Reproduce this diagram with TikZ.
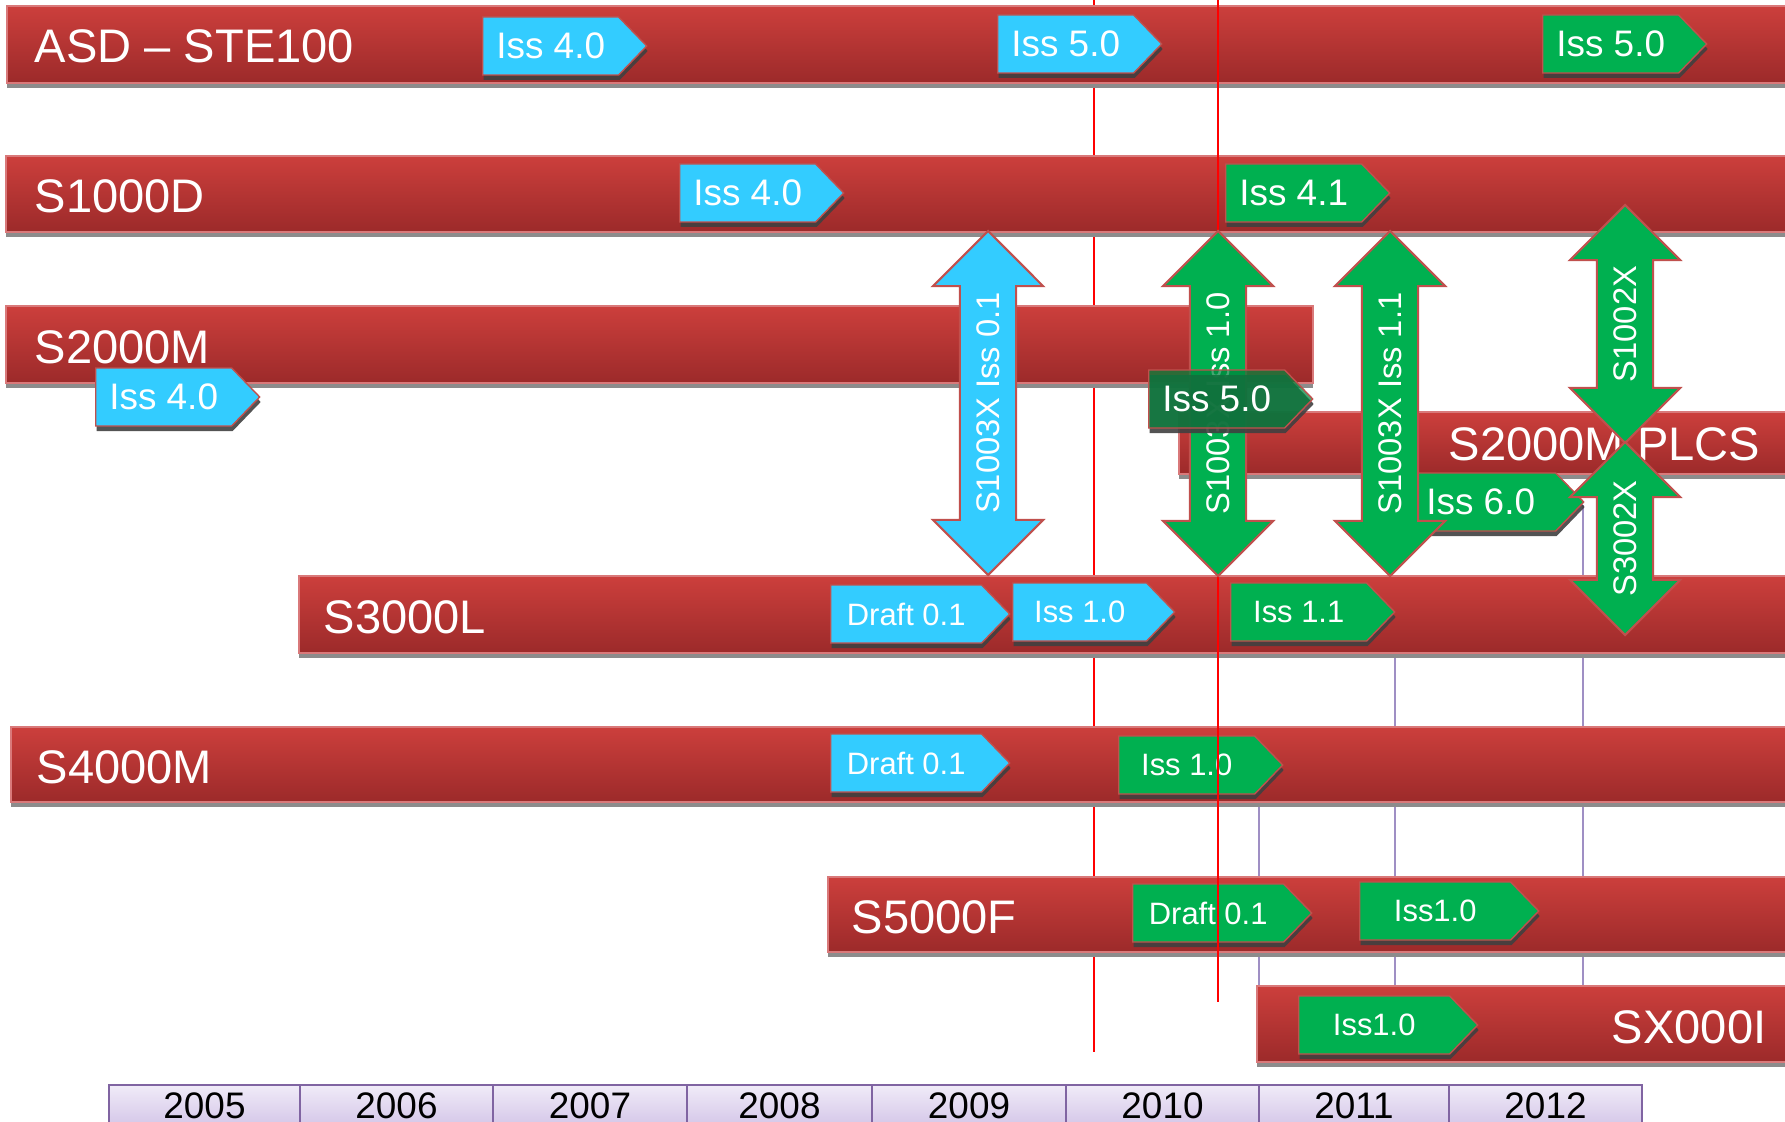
\documentclass[tikz,border=0pt]{standalone}
\usepackage{fontspec}
\setmainfont{Liberation Sans}
\usetikzlibrary{shapes.symbols,shapes.arrows,shadows}

\definecolor{barlight}{HTML}{CC3F3C}
\definecolor{bardark}{HTML}{9C2A2A}
\definecolor{barrim}{HTML}{D9797A}
\definecolor{isscyan}{HTML}{33CCFF}
\definecolor{issgreen}{HTML}{00B050}
\definecolor{rimred}{HTML}{C0504D}
\definecolor{yearlight}{HTML}{F0EBF8}
\definecolor{yeardark}{HTML}{CBBAE3}
\definecolor{yearrim}{HTML}{8064A2}
\definecolor{gridlilac}{HTML}{9F8FC4}

\begin{document}
\begin{tikzpicture}[x=0.1mm,y=-0.1mm]
\tikzstyle{bar} = [draw=barrim, line width=0.4pt, top color=barlight, bottom color=bardark]
\tikzstyle{barshadow} = [fill=black!45]
\tikzstyle{barlabel} = [text=white, inner sep=0pt, anchor=base west,
font=\fontsize{13.4}{16}\selectfont]
\tikzstyle{mile} = [signal, signal to=east, signal pointer angle=92,
draw=rimred, line width=0.4pt, text=white, inner sep=0pt, anchor=west,
minimum height=5.8mm,
drop shadow={shadow xshift=0.1mm, shadow yshift=-0.5mm, fill=black!75, opacity=0.9}]
\tikzstyle{bigmile} = [mile, minimum width=16.4mm, font=\fontsize{10.5}{12}\selectfont]
\tikzstyle{smallmile} = [mile, minimum width=17.9mm, font=\fontsize{8.8}{10}\selectfont]
\tikzstyle{cyanmile} = [fill=isscyan]
\tikzstyle{greenmile} = [fill=issgreen]
\tikzstyle{link} = [double arrow, rotate=90, draw=rimred, line width=0.6pt, text=white,
double arrow tip angle=90, double arrow head extend=2.7mm,
inner xsep=0pt, inner ysep=1.55mm, font=\fontsize{9.3}{10}\selectfont]
\tikzstyle{yearcell} = [draw=yearrim, line width=0.6pt, top color=yearlight, bottom color=yeardark]
\tikzstyle{yearlabel} = [font=\fontsize{10.5}{12}\selectfont, inner sep=0pt]
\tikzstyle{cutline} = [draw=red, line width=0.6pt]
\tikzstyle{gridline} = [draw=gridlilac, line width=0.5pt]

\clip (0,0) rectangle (1785,1122);

% guide lines behind the bars
\coordinate (cutA) at (1094,0);
\coordinate (cutAend) at (1094,1052);
\coordinate (gridA) at (1259,802);
\coordinate (gridAend) at (1259,986);
\coordinate (gridB) at (1395,653);
\coordinate (gridBend) at (1395,986);
\coordinate (gridC) at (1583,505);
\coordinate (gridCend) at (1583,986);
\draw[cutline] (cutA) -- (cutAend);
\draw[gridline] (gridA) -- (gridAend);
\draw[gridline] (gridB) -- (gridBend);
\draw[gridline] (gridC) -- (gridCend);

% bars
\foreach \xa/\ya/\xb/\yb in {7/6/1790/83, 6/156/1790/232, 6/306/1313/383,
  1179/412/1790/474, 299/576/1790/653, 11/727/1790/802, 828/877/1790/952,
  1257/986/1790/1062}
{
  \fill[barshadow] (\xa,\yb) rectangle (\xb,\yb+5);
  \path[bar] (\xa,\ya) rectangle (\xb,\yb);
}

\node[barlabel] (asd) at (34,63) {ASD – STE100};
\node[barlabel] (sd) at (34,213) {S1000D};
\node[barlabel] (sm) at (34,363) {S2000M};
\node[barlabel] (plcs) at (1448,460) {S2000M PLCS};
\node[barlabel] (sl) at (323,633) {S3000L};
\node[barlabel] (smd) at (36,783) {S4000M};
\node[barlabel] (sf) at (851,933) {S5000F};
\node[barlabel, anchor=base east] (sx) at (1767,1043) {SX000I};

% issues
\node[bigmile, cyanmile] (asdA) at (482,46) {Iss 4.0};
\node[bigmile, cyanmile] (asdB) at (997,44) {Iss 5.0};
\node[bigmile, greenmile] (asdC) at (1542,44) {Iss 5.0};
\node[bigmile, cyanmile] (sdA) at (679,193) {Iss 4.0};
\node[bigmile, greenmile] (sdB) at (1225,193) {Iss 4.1};
\node[bigmile, cyanmile] (smA) at (95,397) {Iss 4.0};
\node[bigmile, greenmile, minimum width=17.8mm] (plcsA) at (1405,502) {Iss 6.0};
\node[smallmile, cyanmile] (slA) at (830,614) {Draft 0.1};
\node[smallmile, cyanmile, minimum width=16.2mm] (slB) at (1012,612) {Iss 1.0};
\node[smallmile, greenmile, minimum width=16.4mm] (slC) at (1230,612) {Iss 1.1};
\node[smallmile, cyanmile] (smdA) at (830,763) {Draft 0.1};
\node[smallmile, greenmile, minimum width=16.4mm] (smdB) at (1118,765) {Iss 1.0};
\node[smallmile, greenmile] (sfA) at (1132,913) {Draft 0.1};
\node[smallmile, greenmile] (sfB) at (1359,911) {Iss1.0};
\node[smallmile, greenmile] (sxA) at (1298,1025) {Iss1.0};

\coordinate (cutB) at (1218,0);
\coordinate (cutBend) at (1218,1002);
\draw[cutline] (cutB) -- (cutBend);

% cross references
\node[link, fill=isscyan, minimum height=34.4mm] (lnkA) at (988,403) {S1003X Iss 0.1};
\node[link, fill=issgreen, minimum height=34.5mm] (lnkB) at (1218,403.5) {S1003X Iss 1.0};
\node[link, fill=issgreen, minimum height=34.5mm] (lnkC) at (1390,403.5) {S1003X Iss 1.1};
\node[link, fill=issgreen, minimum height=23.8mm] (lnkD) at (1625,324) {S1002X};
\node[link, fill=issgreen, minimum height=19.3mm] (lnkE) at (1625,538.5) {S3002X};

\node[bigmile, fill=issgreen!75!black, fill opacity=0.72, text opacity=1] (smB) at (1148,399) {Iss 5.0};

% years
\foreach \xa/\xb/\yr in {109/300/2005, 300/493/2006, 493/687/2007, 687/872/2008,
  872/1066/2009, 1066/1259/2010, 1259/1449/2011, 1449/1642/2012}
{
  \path[yearcell] (\xa,1085) rectangle (\xb,1140);
  \node[yearlabel] (y\yr) at ({(\xa+\xb)/2},1106) {\yr};
}
\end{tikzpicture}
\end{document}
